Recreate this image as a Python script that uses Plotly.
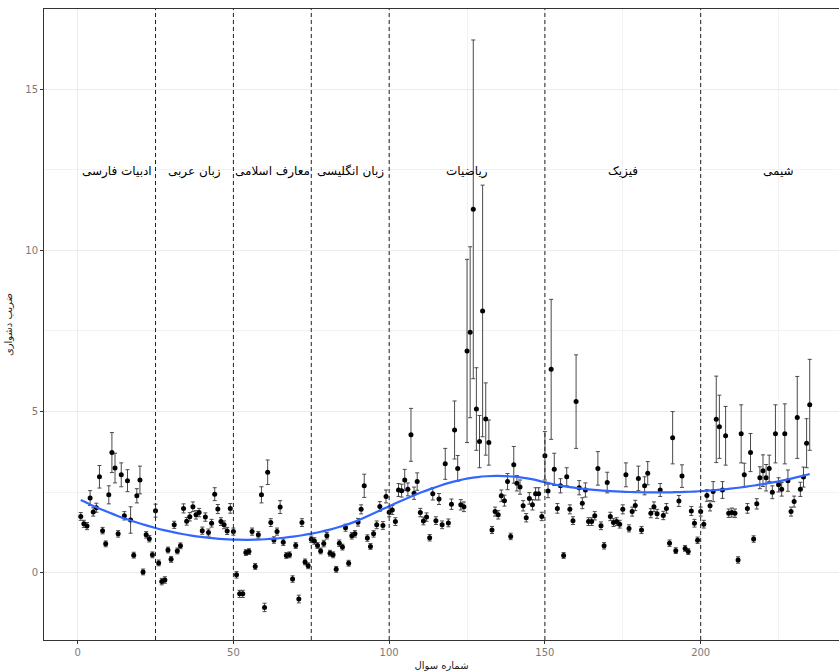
import numpy as np
import plotly.graph_objects as go

# Item difficulty estimates (one per question, questions numbered 1..235)
difficulty = [
    1.75, 1.52, 1.45, 2.32, 1.89, 2.02, 2.98, 1.31, 0.90, 2.42,
    3.73, 3.25, 1.21, 3.04, 1.77, 2.86, 1.64, 0.55, 2.39, 2.88,
    0.03, 1.18, 1.06, 0.56, 1.93, 0.31, -0.27, -0.22, 0.71, 0.42,
    1.49, 0.68, 0.84, 2.00, 1.60, 1.74, 2.05, 1.80, 1.87, 1.31,
    1.73, 1.25, 1.54, 2.44, 1.98, 1.59, 1.49, 1.30, 2.00, 1.28,
    -0.06, -0.65, -0.65, 0.63, 0.66, 1.28, 0.20, 1.18, 2.42, -1.07,
    3.12, 1.56, 1.02, 1.28, 2.04, 0.95, 0.54, 0.56, -0.19, 0.85,
    -0.81, 1.56, 0.34, 0.22, 1.04, 0.99, 0.85, 0.68, 0.91, 1.15,
    0.61, 0.56, 0.11, 0.92, 0.80, 1.40, 0.30, 1.15, 1.21, 1.57,
    1.97, 2.70, 1.08, 0.82, 1.21, 1.49, 2.06, 1.47, 2.37, 1.88,
    1.95, 1.59, 2.57, 2.55, 2.88, 2.59, 4.28, 2.47, 2.83, 1.87,
    1.61, 1.73, 1.09, 2.45, 1.62, 2.29, 1.49, 3.38, 1.55, 2.13,
    4.43, 3.24, 2.11, 2.05, 6.88, 7.46, 11.27, 5.08, 4.07, 8.12,
    4.77, 4.04, 1.33, 1.90, 1.80, 2.39, 2.24, 2.83, 1.13, 3.35,
    2.78, 2.66, 2.08, 1.71, 2.31, 2.11, 2.45, 2.45, 1.75, 3.63,
    2.54, 6.31, 3.21, 2.00, 2.70, 0.54, 2.98, 1.97, 1.62, 5.31,
    2.64, 2.16, 2.57, 1.59, 1.59, 1.77, 3.24, 1.46, 0.84, 2.80,
    1.75, 1.56, 1.59, 1.51, 1.97, 3.04, 1.38, 1.90, 2.09, 2.93,
    1.33, 2.70, 3.09, 1.85, 2.05, 1.83, 2.57, 1.78, 2.00, 0.92,
    4.19, 0.69, 2.23, 3.00, 0.76, 0.66, 1.92, 1.54, 1.01, 1.90,
    1.51, 2.40, 2.08, 2.52, 4.76, 4.53, 2.57, 4.25, 1.85, 1.87,
    1.85, 0.40, 4.31, 3.04, 2.00, 3.73, 1.05, 2.14, 2.95, 3.17,
    2.95, 3.24, 2.50, 4.31, 2.73, 2.59, 4.31, 2.86, 1.90, 2.21,
    4.82, 2.59, 2.97, 4.02, 5.21,
]

# Standard error of each difficulty estimate (half-length of the error bar)
std_error = [
    0.12, 0.11, 0.11, 0.23, 0.13, 0.14, 0.35, 0.10, 0.09, 0.28,
    0.62, 0.46, 0.10, 0.37, 0.13, 0.34, 0.41, 0.09, 0.22, 0.43,
    0.09, 0.10, 0.10, 0.09, 0.20, 0.09, 0.10, 0.10, 0.09, 0.09,
    0.11, 0.09, 0.09, 0.14, 0.12, 0.13, 0.15, 0.13, 0.13, 0.11,
    0.13, 0.11, 0.12, 0.20, 0.14, 0.12, 0.12, 0.11, 0.15, 0.11,
    0.10, 0.11, 0.11, 0.09, 0.09, 0.11, 0.09, 0.10, 0.25, 0.13,
    0.38, 0.12, 0.10, 0.11, 0.20, 0.10, 0.09, 0.09, 0.10, 0.09,
    0.12, 0.12, 0.09, 0.09, 0.10, 0.10, 0.09, 0.09, 0.10, 0.10,
    0.09, 0.09, 0.09, 0.10, 0.09, 0.11, 0.09, 0.10, 0.10, 0.12,
    0.14, 0.36, 0.10, 0.09, 0.10, 0.12, 0.15, 0.12, 0.20, 0.14,
    0.14, 0.12, 0.20, 0.20, 0.33, 0.20, 0.82, 0.19, 0.27, 0.13,
    0.12, 0.13, 0.10, 0.19, 0.12, 0.17, 0.12, 0.48, 0.12, 0.16,
    0.90, 0.40, 0.16, 0.15, 2.84, 2.65, 5.25, 1.28, 0.81, 3.90,
    1.12, 0.70, 0.11, 0.14, 0.13, 0.18, 0.17, 0.25, 0.10, 0.57,
    0.24, 0.22, 0.16, 0.13, 0.18, 0.16, 0.19, 0.19, 0.13, 0.75,
    0.21, 2.17, 0.50, 0.15, 0.22, 0.09, 0.28, 0.14, 0.12, 1.45,
    0.22, 0.17, 0.22, 0.12, 0.12, 0.13, 0.52, 0.12, 0.10, 0.32,
    0.13, 0.12, 0.12, 0.12, 0.14, 0.37, 0.11, 0.14, 0.16, 0.38,
    0.11, 0.28, 0.36, 0.14, 0.15, 0.14, 0.20, 0.13, 0.15, 0.10,
    0.81, 0.09, 0.17, 0.35, 0.09, 0.09, 0.14, 0.12, 0.10, 0.14,
    0.12, 0.18, 0.16, 0.31, 1.34, 0.98, 0.26, 0.91, 0.13, 0.14,
    0.13, 0.10, 0.90, 0.36, 0.15, 0.59, 0.10, 0.16, 0.34, 0.49,
    0.41, 0.41, 0.20, 0.90, 0.22, 0.21, 0.93, 0.33, 0.14, 0.17,
    1.27, 0.22, 0.31, 0.76, 1.41,
]

# Subject sections: boundaries (in question number) and their names
section_breaks = [0, 25, 50, 75, 100, 150, 200, 250]
section_names = ["ادبیات فارسی", "زبان عربی", "معارف اسلامی", "زبان انگلیسی",
                 "ریاضیات", "فیزیک", "شیمی"]

x_ticks = [0, 50, 100, 150, 200]
y_ticks = [0, 5, 10, 15]

x_title = "شماره سوال"
y_title = "ضریب دشواری"

assert len(difficulty) == len(std_error)
question = np.arange(1, len(difficulty) + 1)
d = np.array(difficulty, dtype=float)


def loess(x, y, span=0.75, n_out=80):
    """Local quadratic regression with tricube weights (loess, degree 2)."""
    n = len(x)
    k = int(np.ceil(span * n))
    grid = np.linspace(x.min(), x.max(), n_out)
    fit = []
    for x0 in grid:
        dist = np.abs(x - x0)
        h = np.sort(dist)[k - 1]
        w = np.clip(1 - (dist / h) ** 3, 0, None) ** 3
        X = np.column_stack([np.ones(n), x - x0, (x - x0) ** 2])
        W = np.sqrt(w)
        beta, *_ = np.linalg.lstsq(X * W[:, None], y * W, rcond=None)
        fit.append(beta[0])
    return grid, np.array(fit)


smooth_x, smooth_y = loess(question.astype(float), d)

FONT = "DejaVu Sans, Liberation Sans, sans-serif"

fig = go.Figure()

# Difficulty points with standard-error bars
fig.add_trace(go.Scatter(
    x=question, y=d, mode="markers",
    marker=dict(color="black", size=5),
    error_y=dict(type="data", array=std_error, visible=True,
                 color="#4a4a4a", thickness=1, width=2),
    showlegend=False, hoverinfo="x+y",
))

# Smoothed trend
fig.add_trace(go.Scatter(
    x=smooth_x, y=smooth_y, mode="lines",
    line=dict(color="#3366FF", width=2.2, shape="spline"),
    showlegend=False, hoverinfo="skip",
))

# Dashed separators between subjects
for b in section_breaks[1:-1]:
    fig.add_vline(x=b, line=dict(color="#222222", width=1, dash="4px,3px"), layer="above")

# Subject names centred within each section
for name, lo, hi in zip(section_names, section_breaks[:-1], section_breaks[1:]):
    fig.add_annotation(x=(lo + hi) / 2, y=12.45, text=name, showarrow=False,
                       font=dict(family=FONT, size=12, color="black"),
                       xanchor="center", yanchor="middle")

axis_common = dict(
    showline=True, linecolor="#333333", linewidth=1, mirror=True,
    ticks="outside", ticklen=3, tickcolor="#333333", tickwidth=1,
    tickfont=dict(family=FONT, size=10, color="#7a7a7a"),
    showgrid=True, gridcolor="#ebebeb", gridwidth=1, zeroline=False,
)

fig.update_layout(
    width=839, height=671,
    margin=dict(l=44, r=0, t=9, b=31),
    paper_bgcolor="white", plot_bgcolor="white",
    xaxis=dict(
        range=[-10.8, 244.4], tickvals=x_ticks,
        minor=dict(dtick=25, tick0=25, showgrid=True, gridcolor="#f2f2f2", gridwidth=0.6),
        title=dict(text=x_title, font=dict(family=FONT, size=10, color="#222"), standoff=4),
        **axis_common,
    ),
    yaxis=dict(
        range=[-2.08, 17.48], tickvals=y_ticks,
        minor=dict(dtick=2.5, tick0=2.5, showgrid=True, gridcolor="#f2f2f2", gridwidth=0.6),
        title=dict(text=y_title, font=dict(family=FONT, size=10, color="#222"), standoff=10),
        **axis_common,
    ),
)

fig.write_html("out.html")
